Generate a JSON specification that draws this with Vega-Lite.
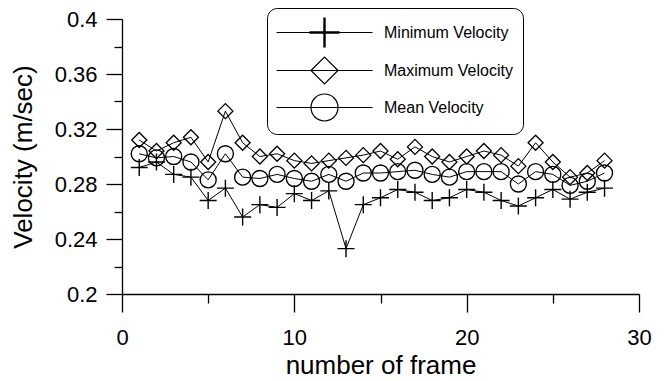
{
  "$schema": "https://vega.github.io/schema/vega-lite/v6.json",
  "width": 517,
  "height": 275,
  "autosize": "none",
  "padding": {"left": 122, "top": 19, "right": 28, "bottom": 87},
  "config": {
    "view": {"stroke": null},
    "font": "Liberation Sans",
    "axis": {
      "grid": false,
      "domainColor": "black",
      "domainWidth": 1.3,
      "tickColor": "black",
      "tickWidth": 1.3,
      "labelColor": "black",
      "titleColor": "black",
      "labelFont": "Liberation Sans",
      "titleFont": "Liberation Sans",
      "labelFontSize": 22,
      "titleFontSize": 26,
      "titleFontWeight": "normal",
      "labelFlush": false,
      "labelOverlap": false
    }
  },
  "data": {
    "values": [
      {"frame": 1, "series": "Minimum Velocity", "v": 0.292},
      {"frame": 2, "series": "Minimum Velocity", "v": 0.296},
      {"frame": 3, "series": "Minimum Velocity", "v": 0.287},
      {"frame": 4, "series": "Minimum Velocity", "v": 0.285},
      {"frame": 5, "series": "Minimum Velocity", "v": 0.268},
      {"frame": 6, "series": "Minimum Velocity", "v": 0.277},
      {"frame": 7, "series": "Minimum Velocity", "v": 0.256},
      {"frame": 8, "series": "Minimum Velocity", "v": 0.265},
      {"frame": 9, "series": "Minimum Velocity", "v": 0.263},
      {"frame": 10, "series": "Minimum Velocity", "v": 0.273},
      {"frame": 11, "series": "Minimum Velocity", "v": 0.268},
      {"frame": 12, "series": "Minimum Velocity", "v": 0.275},
      {"frame": 13, "series": "Minimum Velocity", "v": 0.233},
      {"frame": 14, "series": "Minimum Velocity", "v": 0.265},
      {"frame": 15, "series": "Minimum Velocity", "v": 0.27},
      {"frame": 16, "series": "Minimum Velocity", "v": 0.276},
      {"frame": 17, "series": "Minimum Velocity", "v": 0.274},
      {"frame": 18, "series": "Minimum Velocity", "v": 0.268},
      {"frame": 19, "series": "Minimum Velocity", "v": 0.27},
      {"frame": 20, "series": "Minimum Velocity", "v": 0.276},
      {"frame": 21, "series": "Minimum Velocity", "v": 0.274},
      {"frame": 22, "series": "Minimum Velocity", "v": 0.268},
      {"frame": 23, "series": "Minimum Velocity", "v": 0.264},
      {"frame": 24, "series": "Minimum Velocity", "v": 0.27},
      {"frame": 25, "series": "Minimum Velocity", "v": 0.276},
      {"frame": 26, "series": "Minimum Velocity", "v": 0.269},
      {"frame": 27, "series": "Minimum Velocity", "v": 0.274},
      {"frame": 28, "series": "Minimum Velocity", "v": 0.277},
      {"frame": 1, "series": "Maximum Velocity", "v": 0.312},
      {"frame": 2, "series": "Maximum Velocity", "v": 0.304},
      {"frame": 3, "series": "Maximum Velocity", "v": 0.31},
      {"frame": 4, "series": "Maximum Velocity", "v": 0.314},
      {"frame": 5, "series": "Maximum Velocity", "v": 0.296},
      {"frame": 6, "series": "Maximum Velocity", "v": 0.333},
      {"frame": 7, "series": "Maximum Velocity", "v": 0.31},
      {"frame": 8, "series": "Maximum Velocity", "v": 0.3},
      {"frame": 9, "series": "Maximum Velocity", "v": 0.302},
      {"frame": 10, "series": "Maximum Velocity", "v": 0.297},
      {"frame": 11, "series": "Maximum Velocity", "v": 0.295},
      {"frame": 12, "series": "Maximum Velocity", "v": 0.297},
      {"frame": 13, "series": "Maximum Velocity", "v": 0.299},
      {"frame": 14, "series": "Maximum Velocity", "v": 0.301},
      {"frame": 15, "series": "Maximum Velocity", "v": 0.304},
      {"frame": 16, "series": "Maximum Velocity", "v": 0.298},
      {"frame": 17, "series": "Maximum Velocity", "v": 0.307},
      {"frame": 18, "series": "Maximum Velocity", "v": 0.3},
      {"frame": 19, "series": "Maximum Velocity", "v": 0.296},
      {"frame": 20, "series": "Maximum Velocity", "v": 0.3},
      {"frame": 21, "series": "Maximum Velocity", "v": 0.304},
      {"frame": 22, "series": "Maximum Velocity", "v": 0.301},
      {"frame": 23, "series": "Maximum Velocity", "v": 0.293},
      {"frame": 24, "series": "Maximum Velocity", "v": 0.31},
      {"frame": 25, "series": "Maximum Velocity", "v": 0.296},
      {"frame": 26, "series": "Maximum Velocity", "v": 0.285},
      {"frame": 27, "series": "Maximum Velocity", "v": 0.288},
      {"frame": 28, "series": "Maximum Velocity", "v": 0.297},
      {"frame": 1, "series": "Mean Velocity", "v": 0.302},
      {"frame": 2, "series": "Mean Velocity", "v": 0.299},
      {"frame": 3, "series": "Mean Velocity", "v": 0.3},
      {"frame": 4, "series": "Mean Velocity", "v": 0.296},
      {"frame": 5, "series": "Mean Velocity", "v": 0.283},
      {"frame": 6, "series": "Mean Velocity", "v": 0.302},
      {"frame": 7, "series": "Mean Velocity", "v": 0.285},
      {"frame": 8, "series": "Mean Velocity", "v": 0.284},
      {"frame": 9, "series": "Mean Velocity", "v": 0.287},
      {"frame": 10, "series": "Mean Velocity", "v": 0.284},
      {"frame": 11, "series": "Mean Velocity", "v": 0.282},
      {"frame": 12, "series": "Mean Velocity", "v": 0.287},
      {"frame": 13, "series": "Mean Velocity", "v": 0.282},
      {"frame": 14, "series": "Mean Velocity", "v": 0.288},
      {"frame": 15, "series": "Mean Velocity", "v": 0.288},
      {"frame": 16, "series": "Mean Velocity", "v": 0.289},
      {"frame": 17, "series": "Mean Velocity", "v": 0.29},
      {"frame": 18, "series": "Mean Velocity", "v": 0.287},
      {"frame": 19, "series": "Mean Velocity", "v": 0.285},
      {"frame": 20, "series": "Mean Velocity", "v": 0.289},
      {"frame": 21, "series": "Mean Velocity", "v": 0.289},
      {"frame": 22, "series": "Mean Velocity", "v": 0.289},
      {"frame": 23, "series": "Mean Velocity", "v": 0.28},
      {"frame": 24, "series": "Mean Velocity", "v": 0.289},
      {"frame": 25, "series": "Mean Velocity", "v": 0.287},
      {"frame": 26, "series": "Mean Velocity", "v": 0.279},
      {"frame": 27, "series": "Mean Velocity", "v": 0.282},
      {"frame": 28, "series": "Mean Velocity", "v": 0.288}
    ]
  },
  "encoding": {
    "x": {
      "field": "frame",
      "type": "quantitative",
      "scale": {"domain": [0, 30], "nice": false, "zero": false},
      "axis": {
        "title": "number of frame",
        "values": [0, 5, 10, 15, 20, 25, 30],
        "labelExpr": "datum.value % 10 === 0 ? datum.label : ''",
        "tickSize": {"condition": {"test": "datum.value % 10 === 0", "value": 18}, "value": 9},
        "labelPadding": 15,
        "titlePadding": 4
      }
    },
    "y": {
      "field": "v",
      "type": "quantitative",
      "scale": {"domain": [0.2, 0.4], "nice": false, "zero": false},
      "axis": {
        "title": "Velocity (m/sec)",
        "values": [0.2, 0.22, 0.24, 0.26, 0.28, 0.3, 0.32, 0.34, 0.36, 0.38, 0.4],
        "labelExpr": "round(datum.value * 100) % 4 === 0 ? format(datum.value, '~g') : ''",
        "tickSize": {"condition": {"test": "round(datum.value * 100) % 4 === 0", "value": 16}, "value": 8},
        "labelPadding": 9,
        "titlePadding": 18
      }
    }
  },
  "layer": [
    {
      "mark": {"type": "line", "color": "black", "strokeWidth": 1},
      "encoding": {"detail": {"field": "series", "type": "nominal"}}
    },
    {
      "mark": {"type": "point", "color": "black", "filled": false, "opacity": 1},
      "encoding": {
        "shape": {
          "field": "series",
          "type": "nominal",
          "scale": {
            "domain": ["Minimum Velocity", "Maximum Velocity", "Mean Velocity"],
            "range": ["M-1,0H1M0,-1V1", "diamond", "circle"]
          },
          "legend": null
        },
        "size": {
          "field": "series",
          "type": "nominal",
          "scale": {
            "domain": ["Maximum Velocity", "Mean Velocity", "Minimum Velocity"],
            "range": [225, 289, 324]
          },
          "legend": null
        },
        "strokeWidth": {
          "field": "series",
          "type": "nominal",
          "scale": {
            "domain": ["Maximum Velocity", "Mean Velocity", "Minimum Velocity"],
            "range": [1.3, 1.4, 2.4]
          },
          "legend": null
        }
      }
    },
    {
      "mark": {"type": "point", "color": "black", "filled": false, "opacity": 0},
      "encoding": {
        "shape": {
          "field": "series",
          "type": "nominal",
          "scale": {
            "domain": ["Minimum Velocity", "Maximum Velocity", "Mean Velocity"],
            "range": [
              "M-3.556,0H3.556M-1.11,-0.045H1.11M-1.11,0.045H1.11M0,-1.11V1.11M-0.045,-1.11V1.11M0.045,-1.11V1.11",
              "M-3.556,0H3.556M-1,0L0,-1L1,0L0,1Z",
              "M-3.556,0H3.556M-1,0A1,1,0,1,0,1,0A1,1,0,1,0,-1,0Z"
            ]
          },
          "legend": {
            "title": null,
            "orient": "none",
            "legendX": 145,
            "legendY": -11,
            "strokeColor": "black",
            "fillColor": "white",
            "cornerRadius": 10,
            "padding": 10,
            "symbolSize": 729,
            "symbolOffset": 33,
            "symbolStrokeWidth": 1.2,
            "symbolStrokeColor": "black",
            "symbolOpacity": 1,
            "labelFont": "Liberation Sans",
            "labelFontSize": 16,
            "labelColor": "black",
            "labelOffset": 45,
            "labelLimit": 300,
            "rowPadding": 4
          }
        }
      }
    }
  ],
  "resolve": {"scale": {"shape": "independent"}, "legend": {"shape": "independent"}}
}
